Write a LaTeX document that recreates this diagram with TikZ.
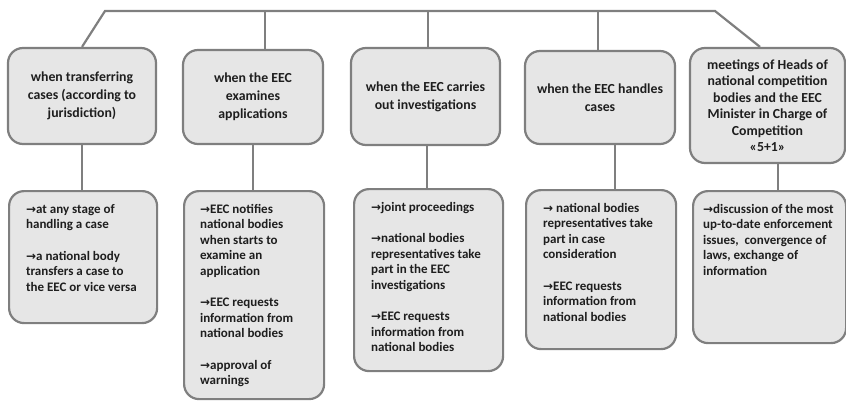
\documentclass[tikz,border=0pt]{standalone}
\usepackage{fontspec}
\setmainfont{Carlito}
\newfontfamily\arrowfont{DejaVu Sans}
\usetikzlibrary{positioning,calc}

\definecolor{boxgray}{HTML}{E6E6E6}
\definecolor{linegray}{HTML}{7F7F7F}
\definecolor{txtgray}{HTML}{1E1E1E}

\newcommand{\arr}{{\arrowfont\fontsize{12}{12}\selectfont →}}
\newcommand{\listtext}[3]{\parbox[t][#1][t]{#2}{\raggedright #3}}

\begin{document}
\begin{tikzpicture}[x=1pt, y=-1pt,
  headbox/.style={draw=linegray, fill=boxgray, line width=2.2pt, rounded corners=15pt,
    align=center, inner sep=0pt, text=txtgray, font=\bfseries\fontsize{13.8}{18}\selectfont},
  listbox/.style={draw=linegray, fill=boxgray, line width=2.2pt, rounded corners=15pt,
    anchor=north west, inner xsep=17pt, inner ysep=13pt, text=txtgray,
    font=\bfseries\fontsize{13}{15.5}\selectfont},
  link/.style={draw=linegray, line width=2.2pt}]

\useasboundingbox (0,0) rectangle (846,401);

% Heading boxes
\node[headbox, minimum width=148pt, minimum height=96pt] (trans) at (82,96)
  {when transferring\\cases (according to\\jurisdiction)};
\node[headbox, minimum width=140pt, minimum height=94pt] (exam) at (253,97)
  {when the EEC\\examines\\applications};
\node[headbox, minimum width=149pt, minimum height=97pt] (invest) at (425.5,96.5)
  {when the EEC carries\\out investigations};
\node[headbox, minimum width=150pt, minimum height=93pt] (handle) at (600,97.5)
  {when the EEC handles\\cases};
\node[headbox, minimum width=155pt, minimum height=115pt,
  font=\bfseries\fontsize{13.8}{16.5}\selectfont] (meet) at (767.5,105.5)
  {meetings of Heads of\\national competition\\bodies and the EEC\\Minister in Charge of\\Competition\\«5+1»};

% Detail boxes
\node[listbox] (trans-d) at (8,190) {\listtext{106pt}{114pt}{%
  \arr at any stage of\\handling a case\\[16pt]
  \arr a national body\\transfers a case to\\the EEC or vice versa}};
\node[listbox, inner xsep=16pt] (exam-d) at (183,190) {\listtext{182pt}{108pt}{%
  \arr EEC notifies\\national bodies\\when starts to\\examine an\\application\\[16pt]
  \arr EEC requests\\information from\\national bodies\\[16pt]
  \arr approval of\\warnings}};
\node[listbox] (invest-d) at (353,188) {\listtext{156pt}{115pt}{%
  \arr joint proceedings\\[16pt]
  \arr national bodies\\representatives take\\part in the EEC\\investigations\\[16pt]
  \arr EEC requests\\information from\\national bodies}};
\node[listbox] (handle-d) at (525,189) {\listtext{133pt}{116pt}{%
  \arr{} national bodies\\representatives take\\part in case\\consideration\\[16pt]
  \arr EEC requests\\information from\\national bodies}};
\node[listbox, inner xsep=10pt] (meet-d) at (692,190) {\listtext{126pt}{133pt}{%
  \arr discussion of the most\\up-to-date enforcement\\issues,~ convergence of\\laws, exchange of\\information}};

% Connectors
\coordinate (bar-l) at (105,11);
\coordinate (bar-r) at (715,11);
\draw[link] (trans.north) -- (bar-l) -- (bar-r) -- ([xshift=-7.5pt]meet.north);
\draw[link] ([xshift=12pt]exam.north) -- ([xshift=12pt]exam.north |- bar-l);
\draw[link] ([xshift=2.5pt]invest.north) -- ([xshift=2.5pt]invest.north |- bar-l);
\draw[link] ([xshift=-2pt]handle.north) -- ([xshift=-2pt]handle.north |- bar-l);

\draw[link] (trans.south) -- (trans.south |- trans-d.north);
\draw[link] (exam.south) -- (exam.south |- exam-d.north);
\draw[link] ([xshift=1.5pt]invest.south) -- ([xshift=1.5pt]invest.south |- invest-d.north);
\draw[link] ([xshift=15pt]handle.south) -- ([xshift=15pt]handle.south |- handle-d.north);
\draw[link] ([xshift=10.5pt]meet.south) -- ([xshift=10.5pt]meet.south |- meet-d.north);

\end{tikzpicture}
\end{document}
